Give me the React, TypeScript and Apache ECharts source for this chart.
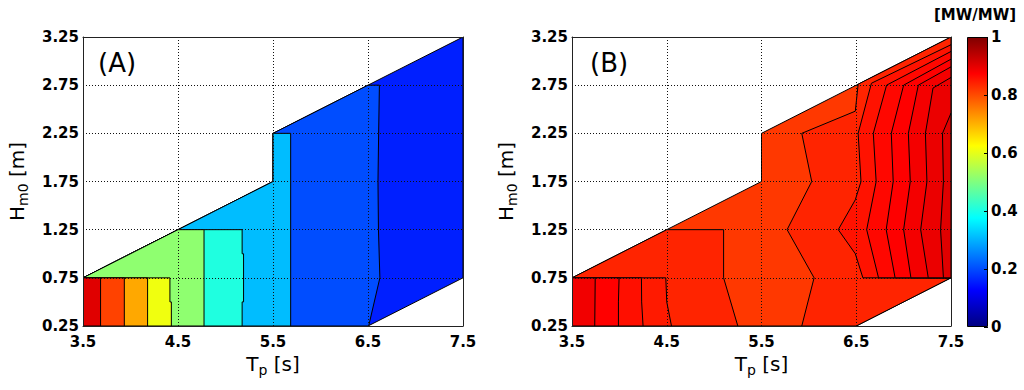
import React, { useEffect, useRef } from 'react';
import * as echarts from 'echarts';

const FONT = 'DejaVu Sans';

// axis ranges / ticks
const tpMin = 3.5, tpMax = 7.5, tpStep = 1;
const hmMin = 0.25, hmMax = 3.25, hmStep = 0.5;
const cbMin = 0, cbMax = 1, cbStep = 0.2;

// jet colormap stops (value, colour)
const jetStops = [
  [0, '#000080'], [0.125, '#0000ff'], [0.375, '#00ffff'],
  [0.625, '#ffff00'], [0.875, '#ff0000'], [1, '#800000'],
];

// measured domain (Tp [s], Hm0 [m])
const domain = [[3.5, 0.25], [6.5, 0.25], [7.5, 0.75], [7.5, 3.25], [6.5, 2.75], [5.5, 2.25], [5.5, 1.75], [4.5, 1.25], [3.5, 0.75]];

// Panel A: filled contour regions (value >= level), painted in order
const levelsA = [0.155, 0.2, 0.31, 0.405, 0.515, 0.61, 0.71, 0.81, 0.905];
const regionsA = [
  domain,
  [[3.5, 0.25], [6.507, 0.25], [6.625, 0.75], [6.61, 1.25], [6.605, 1.75], [6.612, 2.25], [6.62, 2.75], [6.5, 2.75], [5.5, 2.25], [5.5, 1.75], [4.5, 1.25], [3.5, 0.75]],
  [[3.5, 0.25], [5.686, 0.25], [5.686, 2.25], [5.5, 2.25], [5.5, 1.75], [4.5, 1.25], [3.5, 0.75]],
  [[3.5, 0.25], [5.175, 0.25], [5.175, 0.5], [5.19, 0.5], [5.19, 1.0], [5.175, 1.0], [5.175, 1.25], [4.5, 1.25], [3.5, 0.75]],
  [[3.5, 0.25], [4.774, 0.25], [4.774, 1.25], [4.5, 1.25], [3.5, 0.75]],
  [[3.5, 0.25], [4.43, 0.25], [4.43, 0.5], [4.415, 0.5], [4.415, 0.75], [3.5, 0.75]],
  [[3.5, 0.25], [4.18, 0.25], [4.18, 0.75], [3.5, 0.75]],
  [[3.5, 0.25], [3.935, 0.25], [3.935, 0.75], [3.5, 0.75]],
  [[3.5, 0.25], [3.685, 0.25], [3.685, 0.75], [3.5, 0.75]],
];

// Panel B
const levelsB = [0.82, 0.84, 0.84, 0.857, 0.868, 0.876, 0.886, 0.895, 0.905, 0.85, 0.86, 0.875, 0.888];
const regionsB = [
  domain,
  [[3.5, 0.25], [5.25, 0.25], [5.1, 0.75], [5.1, 1.25], [4.5, 1.25], [3.5, 0.75]],
  [[5.925, 0.25], [6.055, 0.75], [5.77, 1.25], [6.03, 1.75], [5.925, 2.25], [6.49, 2.48], [6.52, 2.76], [7.5, 3.25], [7.5, 0.75], [6.5, 0.25]],
  [[6.57, 0.75], [6.49, 1.0], [6.31, 1.25], [6.49, 1.56], [6.55, 1.75], [6.52, 2.25], [6.66, 2.77], [7.5, 3.17], [7.5, 0.75]],
  [[6.735, 0.75], [6.61, 1.25], [6.71, 1.75], [6.68, 2.25], [6.82, 2.75], [7.5, 3.1], [7.5, 0.75]],
  [[6.91, 0.75], [6.816, 1.25], [6.89, 1.75], [6.87, 2.25], [7.0, 2.75], [7.5, 3.02], [7.5, 0.75]],
  [[7.077, 0.75], [7.0, 1.25], [7.07, 1.75], [7.05, 2.25], [7.155, 2.75], [7.5, 2.94], [7.5, 0.75]],
  [[7.26, 0.75], [7.18, 1.25], [7.246, 1.75], [7.23, 2.25], [7.31, 2.72], [7.5, 2.83], [7.5, 0.75]],
  [[7.42, 0.75], [7.39, 1.25], [7.42, 1.75], [7.41, 2.25], [7.5, 2.46], [7.5, 0.75]],
  [[3.5, 0.25], [4.55, 0.25], [4.5, 0.5], [4.49, 0.75], [3.5, 0.75]],
  [[3.5, 0.25], [4.25, 0.25], [4.235, 0.5], [4.233, 0.75], [3.5, 0.75]],
  [[3.5, 0.25], [3.99, 0.25], [3.99, 0.5], [3.997, 0.75], [3.5, 0.75]],
  [[3.5, 0.25], [3.74, 0.25], [3.745, 0.75], [3.5, 0.75]],
];

const clamp = (x: number) => Math.max(0, Math.min(1, x));
const jet = (v: number) => {
  const r = clamp(Math.min(4 * v - 1.5, -4 * v + 4.5));
  const g = clamp(Math.min(4 * v - 0.5, -4 * v + 3.5));
  const b = clamp(Math.min(4 * v + 0.5, -4 * v + 2.5));
  return `rgb(${Math.round(r * 255)},${Math.round(g * 255)},${Math.round(b * 255)})`;
};

const richName = {
  a: { fontSize: 20, fontFamily: FONT, color: '#000' },
  s: { fontSize: 14, fontFamily: FONT, color: '#000', padding: [12, 0, 0, 0] },
};

function contourSeries(regions: number[][][], levels: number[], axisIndex: number) {
  return {
    type: 'custom',
    xAxisIndex: axisIndex,
    yAxisIndex: axisIndex,
    clip: true,
    silent: true,
    z: 2,
    data: levels.map((v, i) => ({ value: [regions[i][0][0], regions[i][0][1], v] })),
    encode: { x: 0, y: 1 },
    renderItem: (params: any, api: any) => {
      const i = params.dataIndex;
      const pts = regions[i].map((p) => api.coord(p));
      return {
        type: 'polygon',
        shape: { points: pts },
        style: { fill: jet(levels[i]), stroke: '#000', lineWidth: 1, lineJoin: 'round' },
      };
    },
  };
}

const tickLabel = { color: '#000', fontFamily: FONT, fontSize: 15, fontWeight: 'bold' };

function mainAxes(gridIndex: number) {
  const line = { show: true, onZero: false, lineStyle: { color: '#222', width: 1 } };
  const split = { show: true, showMinLine: false, showMaxLine: false, lineStyle: { color: '#111', width: 1, type: [1, 2] } };
  return {
    x: [
      {
        gridIndex, type: 'value', min: tpMin, max: tpMax, interval: tpStep, position: 'bottom', z: 10,
        axisLine: line, axisTick: { show: false }, axisLabel: { ...tickLabel, margin: 8 }, splitLine: split,
        name: '{a|T}{s|p}{a| [s]}', nameLocation: 'middle', nameGap: 20, nameTextStyle: { rich: richName },
      },
      {
        gridIndex, type: 'value', min: tpMin, max: tpMax, interval: tpStep, position: 'top', z: 10,
        axisLine: line, axisTick: { show: false }, axisLabel: { show: false }, splitLine: { show: false },
      },
    ],
    y: [
      {
        gridIndex, type: 'value', min: hmMin, max: hmMax, interval: hmStep, position: 'left', z: 10,
        axisLine: line, axisTick: { show: false }, axisLabel: { ...tickLabel, margin: 4 }, splitLine: split,
        name: '{a|H}{s|m0}{a| [m]}', nameLocation: 'middle', nameRotate: 90, nameGap: 53, nameTextStyle: { rich: richName },
      },
      {
        gridIndex, type: 'value', min: hmMin, max: hmMax, interval: hmStep, position: 'right', z: 10,
        axisLine: line, axisTick: { show: false }, axisLabel: { show: false }, splitLine: { show: false },
      },
    ],
  };
}

export default function App() {
  const ref = useRef<HTMLDivElement>(null);
  useEffect(() => {
    if (!ref.current) return;
    const chart = echarts.init(ref.current, undefined, { renderer: 'svg' });
    const a = mainAxes(0);
    const b = mainAxes(1);
    const gradient = new echarts.graphic.LinearGradient(0, 1, 0, 0,
      jetStops.map(([o, c]) => ({ offset: o as number, color: c as string })));
    chart.setOption({
      animation: false,
      backgroundColor: '#fff',
      textStyle: { fontFamily: FONT },
      grid: [
        { left: 83, top: 37, width: 380, height: 289 },
        { left: 572, top: 37, width: 379, height: 289 },
        { left: 967, top: 37, width: 21, height: 290 },
      ],
      xAxis: [
        a.x[0], a.x[1], b.x[0], b.x[1],
        { gridIndex: 2, type: 'category', data: ['cb'], show: false },
      ],
      yAxis: [
        a.y[0], a.y[1], b.y[0], b.y[1],
        {
          gridIndex: 2, type: 'value', min: cbMin, max: cbMax, interval: cbStep, position: 'right', z: 10,
          axisLine: { show: false }, axisTick: { show: true, inside: true, length: 4, lineStyle: { color: '#000' } },
          axisLabel: { ...tickLabel, margin: 3 }, splitLine: { show: false },
        },
      ],
      series: [
        contourSeries(regionsA, levelsA, 0),
        contourSeries(regionsB, levelsB, 2),
        {
          type: 'bar', xAxisIndex: 4, yAxisIndex: 4, data: [cbMax], barWidth: '100%', silent: true,
          itemStyle: { color: gradient, borderColor: '#000', borderWidth: 1 },
        },
      ],
      graphic: [
        { type: 'text', left: 98, top: 50, style: { text: '(A)', fontSize: 26, fontFamily: FONT, fill: '#000' } },
        { type: 'text', left: 590, top: 50, style: { text: '(B)', fontSize: 26, fontFamily: FONT, fill: '#000' } },
        { type: 'text', left: 934, top: 7, style: { text: '[MW/MW]', fontSize: 15, fontWeight: 'bold', fontFamily: FONT, fill: '#000' } },
      ],
    });
    return () => chart.dispose();
  }, []);
  return <div ref={ref} style={{ position: 'absolute', left: 0, top: 0, width: 1024, height: 390 }} />;
}
